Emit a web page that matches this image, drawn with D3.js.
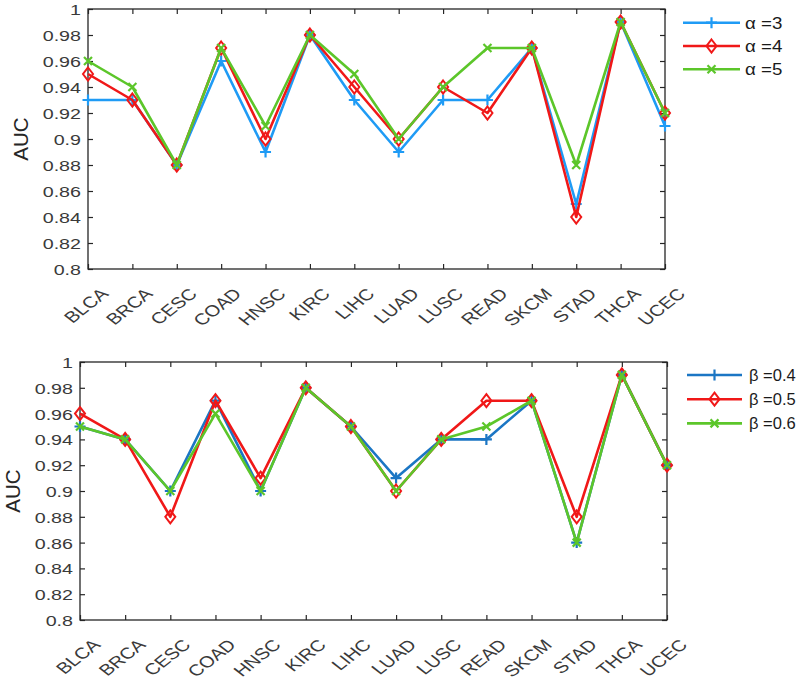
<!DOCTYPE html>
<html>
<head>
<meta charset="utf-8">
<script src="https://cdn.jsdelivr.net/npm/d3@7"></script>
<style>
  html, body { margin: 0; padding: 0; background: #fff; }
  svg { display: block; font-family: "Liberation Sans", Arial, Helvetica, sans-serif; }
</style>
</head>
<body>
<svg id="chart" width="800" height="682"></svg>
<script>
// ---------- data ----------
const categories = ["BLCA","BRCA","CESC","COAD","HNSC","KIRC","LIHC","LUAD","LUSC","READ","SKCM","STAD","THCA","UCEC"];

const alpha3 = [0.93,0.93,0.88,0.96,0.89,0.98,0.93,0.89,0.93,0.93,0.97,0.85,0.99,0.91];
const alpha4 = [0.95,0.93,0.88,0.97,0.90,0.98,0.94,0.90,0.94,0.92,0.97,0.84,0.99,0.92];
const alpha5 = [0.96,0.94,0.88,0.97,0.91,0.98,0.95,0.90,0.94,0.97,0.97,0.88,0.99,0.92];

const beta04 = [0.95,0.94,0.90,0.97,0.90,0.98,0.95,0.91,0.94,0.94,0.97,0.86,0.99,0.92];
const beta05 = [0.96,0.94,0.88,0.97,0.91,0.98,0.95,0.90,0.94,0.97,0.97,0.88,0.99,0.92];
const beta06 = [0.95,0.94,0.90,0.96,0.90,0.98,0.95,0.90,0.94,0.95,0.97,0.86,0.99,0.92];

const yTicks = [0.8,0.82,0.84,0.86,0.88,0.9,0.92,0.94,0.96,0.98,1];
const yTickLabels = ["0.8","0.82","0.84","0.86","0.88","0.9","0.92","0.94","0.96","0.98","1"];

const alphaLabels = ["\u03B1 =3","\u03B1 =4","\u03B1 =5"];
const betaLabels = ["\u03B2 =0.4","\u03B2 =0.5","\u03B2 =0.6"];
const yLabel = "AUC";

// ---------- styles ----------
const AX = "#262626";
const SX = 1.27; // horizontal text stretch of the original raster

const panels = [
  { box: {x0: 88, x1: 665, y0: 9, y1: 269},
    series: [
      {name: alphaLabels[0], values: alpha3, color: "#1f9bf5", marker: "plus"},
      {name: alphaLabels[1], values: alpha4, color: "#f01818", marker: "diamond"},
      {name: alphaLabels[2], values: alpha5, color: "#5cc62a", marker: "x"}
    ],
    legend: {x0: 683, x1: 740, y: 22.7, dy: 23.3, tx: 745, fs: 17, sx: 1.1}
  },
  { box: {x0: 80, x1: 667, y0: 362, y1: 620},
    series: [
      {name: betaLabels[0], values: beta04, color: "#1b76c4", marker: "plus"},
      {name: betaLabels[1], values: beta05, color: "#f01818", marker: "diamond"},
      {name: betaLabels[2], values: beta06, color: "#5cc62a", marker: "x"}
    ],
    legend: {x0: 687, x1: 742, y: 375, dy: 24.2, tx: 749, fs: 16.5, sx: 1.0}
  }
];

const svg = d3.select("#chart");

function drawMarker(g, type, cx, cy, color) {
  if (type === "plus") {
    const s = 5.5;
    g.append("path")
      .attr("d", `M${cx-s},${cy}H${cx+s}M${cx},${cy-s}V${cy+s}`)
      .attr("stroke", color).attr("stroke-width", 2.2).attr("fill", "none");
  } else if (type === "diamond") {
    const w = 5, h = 6.5;
    g.append("path")
      .attr("d", `M${cx},${cy-h}L${cx+w},${cy}L${cx},${cy+h}L${cx-w},${cy}Z`)
      .attr("stroke", color).attr("stroke-width", 2).attr("fill", "none");
  } else {
    const s = 4;
    g.append("path")
      .attr("d", `M${cx-s},${cy-s}L${cx+s},${cy+s}M${cx-s},${cy+s}L${cx+s},${cy-s}`)
      .attr("stroke", color).attr("stroke-width", 2.2).attr("fill", "none");
  }
}

panels.forEach(p => {
  const b = p.box;
  const x = d3.scalePoint().domain(categories).range([b.x0, b.x1]);
  const y = d3.scaleLinear().domain([0.8, 1]).range([b.y1, b.y0]);
  const g = svg.append("g");

  // frame
  g.append("rect")
    .attr("x", b.x0).attr("y", b.y0)
    .attr("width", b.x1 - b.x0).attr("height", b.y1 - b.y0)
    .attr("fill", "none").attr("stroke", AX).attr("stroke-width", 1.3);

  // left axis
  const left = g.append("g").attr("transform", `translate(${b.x0},0)`)
    .call(d3.axisLeft(y).tickValues(yTicks).tickSize(-5).tickFormat((d, i) => yTickLabels[i]));
  left.select(".domain").remove();
  left.selectAll("line").attr("stroke", AX).attr("stroke-width", 1.2);
  left.selectAll("text")
    .attr("x", 0).attr("dy", "0.36em")
    .attr("transform", `translate(-7,0) scale(${SX},1)`)
    .attr("fill", "#3a3a3a").attr("font-size", 15.5);

  // right axis ticks
  const right = g.append("g").attr("transform", `translate(${b.x1},0)`)
    .call(d3.axisRight(y).tickValues(yTicks).tickSize(-5).tickFormat(""));
  right.select(".domain").remove();
  right.selectAll("line").attr("stroke", AX).attr("stroke-width", 1.2);

  // top ticks
  const top = g.append("g").attr("transform", `translate(0,${b.y0})`)
    .call(d3.axisTop(x).tickSize(-5).tickFormat(""));
  top.select(".domain").remove();
  top.selectAll("line").attr("stroke", AX).attr("stroke-width", 1.2);

  // bottom axis
  const bottom = g.append("g").attr("transform", `translate(0,${b.y1})`)
    .call(d3.axisBottom(x).tickSize(-5));
  bottom.select(".domain").remove();
  bottom.selectAll("line").attr("stroke", AX).attr("stroke-width", 1.2);
  bottom.selectAll("text")
    .attr("x", 0).attr("y", 0).attr("dy", "0.7em")
    .attr("text-anchor", "end")
    .attr("transform", `translate(11,18) scale(${SX},1) rotate(-45)`)
    .attr("fill", "#3a3a3a").attr("font-size", 15.8);

  // y label
  g.append("text")
    .attr("transform", `translate(${b.x0 - 67},${(b.y0 + b.y1) / 2}) rotate(-90)`)
    .attr("text-anchor", "middle").attr("dy", "0.35em")
    .attr("font-size", 20.5).attr("fill", "#262626")
    .text(yLabel);

  // series
  const line = d3.line().x((d, i) => x(categories[i])).y(d => y(d));
  p.series.forEach(s => {
    g.append("path").datum(s.values)
      .attr("d", line).attr("fill", "none")
      .attr("stroke", s.color).attr("stroke-width", 2.6)
      .attr("stroke-linejoin", "round");
    const mg = g.append("g");
    s.values.forEach((v, i) => drawMarker(mg, s.marker, x(categories[i]), y(v), s.color));
  });

  // legend
  const L = p.legend;
  p.series.forEach((s, i) => {
    const ly = L.y + i * L.dy;
    g.append("line").attr("x1", L.x0).attr("x2", L.x1).attr("y1", ly).attr("y2", ly)
      .attr("stroke", s.color).attr("stroke-width", 2.6);
    drawMarker(g, s.marker, (L.x0 + L.x1) / 2, ly, s.color);
    g.append("text")
      .attr("transform", `translate(${L.tx},${ly}) scale(${L.sx},1)`)
      .attr("dy", "0.36em").attr("font-size", L.fs).attr("fill", "#1a1a1a")
      .text(s.name);
  });
});
</script>
</body>
</html>
